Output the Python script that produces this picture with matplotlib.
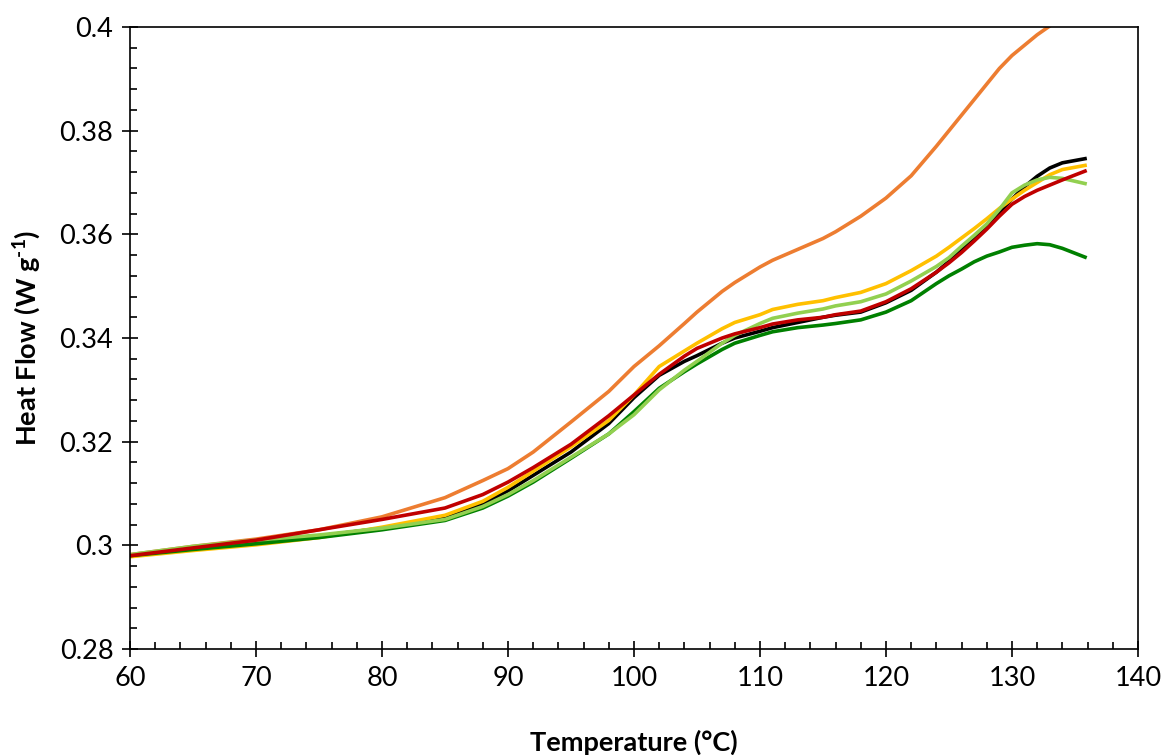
import numpy as np
import matplotlib
matplotlib.use('Agg')
import matplotlib.pyplot as plt
from matplotlib.ticker import MultipleLocator, FuncFormatter

# temperature grid (deg C) shared by all DSC traces
temperature = [60, 65, 70, 75, 80, 85, 88, 90, 92, 95, 98, 100, 102, 104, 105, 107, 108,
               110, 111, 113, 115, 116, 118, 120, 122, 124, 125, 126, 127, 128, 129, 130,
               131, 132, 133, 134, 135.8]

# heat flow (W/g)
hf_black = [0.2980, 0.2993, 0.3005, 0.3018, 0.3033, 0.3055, 0.3080, 0.3105, 0.3135,
            0.3180, 0.3235, 0.3285, 0.3328, 0.3355, 0.3366, 0.3390, 0.3400,
            0.3413, 0.3420, 0.3430, 0.3440, 0.3444, 0.3450, 0.3468, 0.3492, 0.3527,
            0.3548, 0.3570, 0.3592, 0.3615, 0.3642, 0.3668, 0.3692, 0.3712, 0.3728,
            0.3738, 0.3746]
hf_orange = [0.2982, 0.2998, 0.3012, 0.3030, 0.3055, 0.3092, 0.3125, 0.3148, 0.3180,
             0.3238, 0.3297, 0.3345, 0.3385, 0.3428, 0.3450, 0.3490, 0.3507,
             0.3537, 0.3550, 0.3571, 0.3592, 0.3605, 0.3635, 0.3670, 0.3713, 0.3770,
             0.3800, 0.3830, 0.3860, 0.3890, 0.3920, 0.3945, 0.3965, 0.3985, 0.4002,
             0.4022, 0.4060]
hf_yellow = [0.2978, 0.2990, 0.3001, 0.3015, 0.3035, 0.3058, 0.3085, 0.3112, 0.3143,
             0.3190, 0.3241, 0.3290, 0.3345, 0.3375, 0.3390, 0.3418, 0.3430,
             0.3445, 0.3455, 0.3465, 0.3472, 0.3478, 0.3488, 0.3505, 0.3530, 0.3558,
             0.3575, 0.3593, 0.3611, 0.3630, 0.3650, 0.3668, 0.3685, 0.3700, 0.3715,
             0.3725, 0.3733]
hf_lightgreen = [0.2982, 0.2998, 0.3010, 0.3020, 0.3033, 0.3050, 0.3075, 0.3098, 0.3125,
                 0.3170, 0.3215, 0.3252, 0.3300, 0.3338, 0.3355, 0.3390, 0.3405,
                 0.3428, 0.3438, 0.3448, 0.3456, 0.3462, 0.3470, 0.3485, 0.3510, 0.3538,
                 0.3555, 0.3577, 0.3598, 0.3620, 0.3648, 0.3680, 0.3695, 0.3705, 0.3710,
                 0.3708, 0.3698]
hf_darkgreen = [0.2980, 0.2992, 0.3003, 0.3015, 0.3030, 0.3048, 0.3072, 0.3095, 0.3122,
                0.3168, 0.3215, 0.3258, 0.3303, 0.3335, 0.3350, 0.3378, 0.3390,
                0.3405, 0.3412, 0.3420, 0.3425, 0.3428, 0.3435, 0.3450, 0.3472, 0.3505,
                0.3520, 0.3533, 0.3547, 0.3558, 0.3566, 0.3575, 0.3579, 0.3582, 0.3580,
                0.3573, 0.3556]
hf_red = [0.2980, 0.2995, 0.3010, 0.3030, 0.3050, 0.3072, 0.3098, 0.3122, 0.3150,
          0.3195, 0.3250, 0.3290, 0.3330, 0.3365, 0.3380, 0.3400, 0.3408,
          0.3420, 0.3427, 0.3435, 0.3440, 0.3445, 0.3452, 0.3470, 0.3495, 0.3527,
          0.3545, 0.3565, 0.3587, 0.3610, 0.3635, 0.3658, 0.3673, 0.3685, 0.3695,
          0.3705, 0.3722]

series = [
    (hf_black, '#000000'),
    (hf_orange, '#ED7D31'),
    (hf_yellow, '#FFC000'),
    (hf_darkgreen, '#008000'),
    (hf_lightgreen, '#92D050'),
    (hf_red, '#C00000'),
]

plt.rcParams['font.family'] = ['Lato', 'DejaVu Sans']
plt.rcParams['mathtext.fontset'] = 'custom'
plt.rcParams['mathtext.rm'] = 'Lato:bold'
plt.rcParams['mathtext.bf'] = 'Lato:bold'

fig = plt.figure(figsize=(11.62, 7.55), dpi=100)
ax = fig.add_axes([0.1119, 0.1404, 0.8674, 0.8238])

for values, color in series:
    ax.plot(temperature, values, color=color, lw=2.6, solid_joinstyle='round')

ax.set_xlim(60, 140)
ax.set_ylim(0.28, 0.4)
ax.xaxis.set_major_locator(MultipleLocator(10))
ax.xaxis.set_minor_locator(MultipleLocator(2))
ax.yaxis.set_major_locator(MultipleLocator(0.02))
ax.yaxis.set_minor_locator(MultipleLocator(0.004))
ax.yaxis.set_major_formatter(FuncFormatter(lambda v, p: f"{round(v, 3):g}"))

ax.tick_params(which='major', direction='inout', length=12, width=1.2,
               labelsize=19.5, pad=6)
ax.tick_params(which='minor', direction='in', length=5, width=1.2)
for sp in ax.spines.values():
    sp.set_linewidth(1.2)

ax.set_xlabel('Temperature (°C)', fontsize=19.5, fontweight='bold', labelpad=28)
ax.set_ylabel('Heat Flow (W g$^{\\text{-1}}$)', fontsize=19.5, fontweight='bold', labelpad=12)

fig.savefig('out.png', dpi=100)
